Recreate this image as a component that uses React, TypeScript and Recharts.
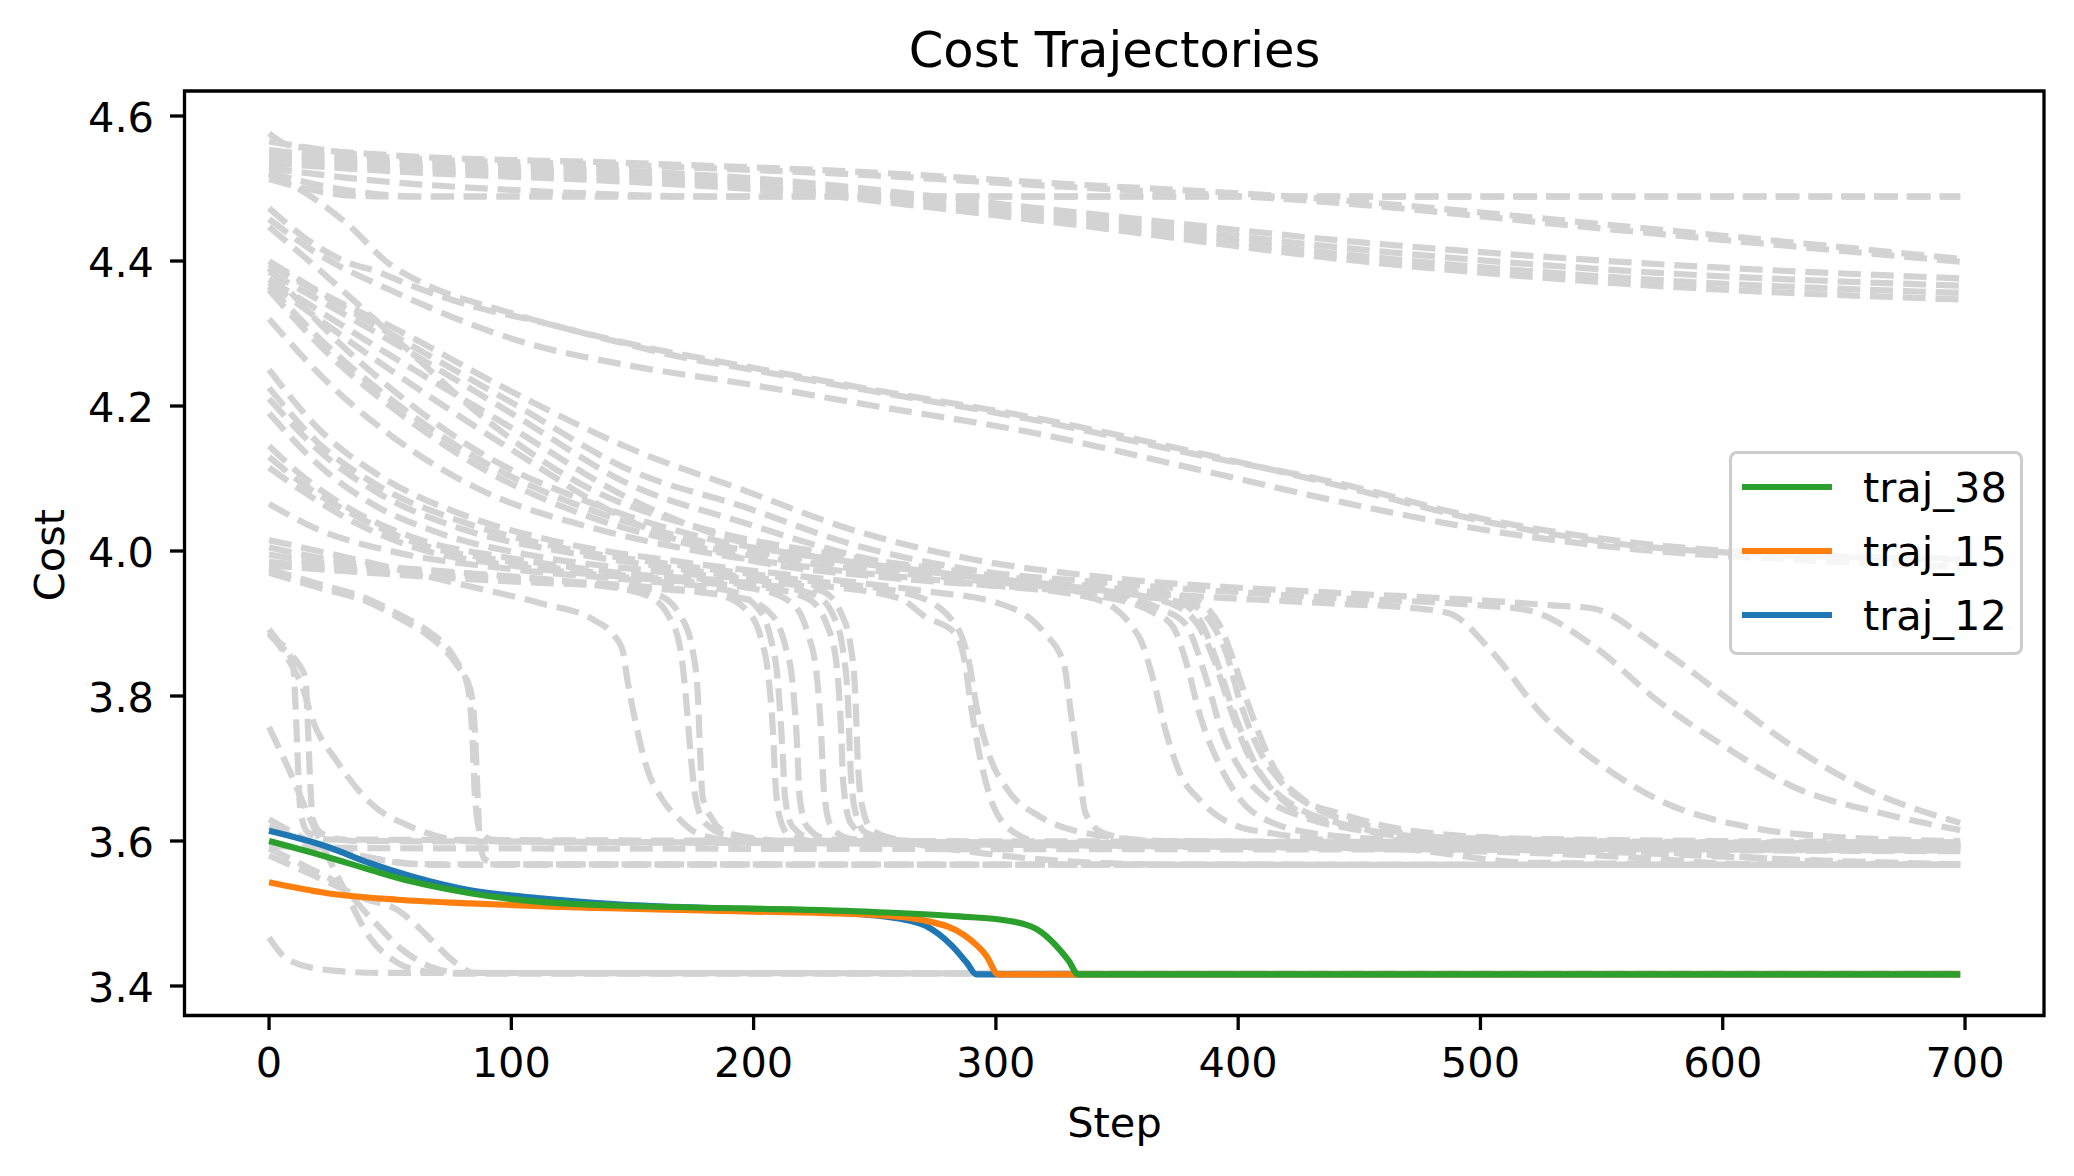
import React from 'react';
import { LineChart, Line, XAxis, YAxis, ReferenceArea } from 'recharts';

type Pt = [number, number];

// axis ticks
const STEP_TICKS = [0, 100, 200, 300, 400, 500, 600, 700];
const COST_TICKS = [3.4, 3.6, 3.8, 4.0, 4.2, 4.4, 4.6];

// highlighted trajectories [step, cost]
const traj38: Pt[] = [[0, 3.6], [24, 3.578], [42, 3.56], [59, 3.544], [83, 3.528], [112, 3.516], [142, 3.511], [196, 3.507], [250, 3.502], [285, 3.496], [305, 3.49], [317, 3.478], [325, 3.455], [330, 3.435], [334, 3.416], [698, 3.416]];
const traj15: Pt[] = [[0, 3.543], [24, 3.528], [53, 3.519], [83, 3.514], [112, 3.51], [196, 3.503], [250, 3.498], [271, 3.49], [287, 3.47], [296, 3.442], [301, 3.416], [698, 3.416]];
const traj12: Pt[] = [[0, 3.614], [24, 3.592], [42, 3.569], [59, 3.551], [83, 3.532], [112, 3.521], [142, 3.513], [196, 3.506], [244, 3.499], [260, 3.493], [271, 3.483], [282, 3.455], [288, 3.432], [292, 3.416], [698, 3.416]];

// top band
const top1: Pt[] = [[0, 4.576], [8, 4.56], [50, 4.546], [150, 4.535], [250, 4.522], [320, 4.508], [434, 4.486], [562, 4.447], [698, 4.403]];
const top2: Pt[] = [[0, 4.565], [50, 4.543], [150, 4.532], [250, 4.518], [320, 4.504], [434, 4.482], [562, 4.441], [698, 4.399]];
const top3: Pt[] = [[0, 4.553], [50, 4.537], [150, 4.524], [200, 4.514], [320, 4.472], [450, 4.426], [562, 4.398], [698, 4.376]];
const top4: Pt[] = [[0, 4.548], [50, 4.533], [150, 4.519], [200, 4.508], [320, 4.466], [450, 4.416], [562, 4.386], [698, 4.366]];
const top5: Pt[] = [[0, 4.541], [50, 4.529], [150, 4.514], [200, 4.503], [320, 4.461], [450, 4.407], [562, 4.376], [698, 4.356]];
const top6: Pt[] = [[0, 4.535], [50, 4.524], [150, 4.509], [200, 4.499], [320, 4.455], [450, 4.4], [562, 4.368], [698, 4.347]];
const flat1: Pt[] = [[0, 4.522], [20, 4.505], [45, 4.492], [60, 4.489], [698, 4.489]];
const flat2: Pt[] = [[0, 4.513], [15, 4.5], [35, 4.49], [50, 4.489], [698, 4.489]];
const flat3: Pt[] = [[0, 4.528], [40, 4.512], [100, 4.498], [150, 4.491], [180, 4.489], [698, 4.489]];

// slow band ending near 4.0
const band1: Pt[] = [[0, 4.473], [16, 4.429], [31, 4.4], [45, 4.385], [58, 4.367], [87, 4.335], [112, 4.316], [142, 4.29], [171, 4.267], [196, 4.252], [250, 4.22], [317, 4.18], [380, 4.135], [442, 4.093], [500, 4.045], [562, 4.012], [630, 3.995], [698, 3.99]];
const band2: Pt[] = [[0, 4.52], [12, 4.5], [32, 4.452], [50, 4.395], [62, 4.372], [100, 4.328], [150, 4.285], [196, 4.255], [250, 4.222], [317, 4.183], [380, 4.138], [442, 4.09], [500, 4.042], [562, 4.008], [630, 3.994], [698, 3.988]];
const band3: Pt[] = [[0, 4.458], [20, 4.41], [50, 4.36], [105, 4.288], [150, 4.255], [196, 4.231], [250, 4.2], [317, 4.162], [380, 4.115], [442, 4.068], [500, 4.03], [562, 4.003], [630, 3.988], [698, 3.978]];

// late, gentle drops
const fanA: Pt[] = [[0, 4.4], [25, 4.35], [50, 4.31], [100, 4.22], [150, 4.14], [195, 4.085], [240, 4.03], [288, 3.99], [350, 3.962], [442, 3.942], [500, 3.932], [530, 3.925], [546, 3.921], [573, 3.868], [601, 3.799], [629, 3.73], [657, 3.675], [698, 3.625]];
const fanB: Pt[] = [[0, 4.395], [50, 4.3], [100, 4.205], [150, 4.11], [195, 4.062], [240, 4.01], [288, 3.975], [350, 3.955], [442, 3.935], [500, 3.925], [520, 3.918], [547, 3.868], [573, 3.794], [601, 3.73], [629, 3.675], [666, 3.638], [698, 3.615]];
const fanC: Pt[] = [[0, 4.385], [50, 4.29], [100, 4.19], [150, 4.09], [195, 4.04], [240, 3.995], [288, 3.965], [350, 3.945], [442, 3.927], [470, 3.922], [487, 3.914], [505, 3.86], [525, 3.776], [555, 3.693], [574, 3.656], [611, 3.619], [650, 3.605], [698, 3.6]];
const fanD: Pt[] = [[0, 4.375], [50, 4.27], [100, 4.17], [150, 4.07], [195, 4.012], [240, 3.985], [300, 3.962], [350, 3.948], [380, 3.935], [392, 3.9], [398, 3.85], [404, 3.79], [415, 3.7], [427, 3.657], [442, 3.638], [470, 3.615], [520, 3.603], [698, 3.598]];
const fanE: Pt[] = [[0, 4.37], [50, 4.25], [100, 4.14], [150, 4.04], [195, 3.99], [250, 3.965], [300, 3.952], [350, 3.94], [375, 3.93], [385, 3.9], [392, 3.84], [398, 3.78], [408, 3.7], [420, 3.652], [440, 3.625], [480, 3.605], [698, 3.595]];

// plateau then sharp drop
const drop85a: Pt[] = [[0, 3.975], [20, 3.955], [42, 3.932], [55, 3.91], [65, 3.891], [77, 3.85], [82, 3.813], [84, 3.74], [85, 3.66], [87, 3.615], [92, 3.602], [120, 3.598], [698, 3.596]];
const drop85b: Pt[] = [[0, 3.97], [20, 3.95], [42, 3.928], [55, 3.905], [65, 3.885], [77, 3.845], [83, 3.81], [85, 3.75], [86, 3.67], [87, 3.6], [89, 3.575], [95, 3.568], [698, 3.567]];
const drop146: Pt[] = [[0, 4.015], [40, 3.985], [83, 3.951], [112, 3.928], [134, 3.905], [142, 3.885], [146, 3.862], [148, 3.82], [151, 3.768], [156, 3.7], [162, 3.659], [170, 3.628], [176, 3.612], [190, 3.601], [230, 3.597], [698, 3.595]];
const drop172: Pt[] = [[0, 4.005], [30, 3.985], [80, 3.97], [130, 3.955], [155, 3.94], [165, 3.91], [170, 3.86], [172, 3.8], [174, 3.72], [176, 3.66], [180, 3.625], [190, 3.607], [210, 3.6], [698, 3.594]];
const drop178: Pt[] = [[0, 3.995], [30, 3.98], [80, 3.968], [130, 3.955], [160, 3.94], [170, 3.91], [175, 3.86], [177, 3.8], [178, 3.716], [179, 3.66], [183, 3.63], [190, 3.61], [215, 3.6], [698, 3.59]];
const drop207: Pt[] = [[0, 3.985], [50, 3.97], [100, 3.962], [150, 3.952], [185, 3.94], [198, 3.915], [203, 3.88], [206, 3.83], [208, 3.75], [209, 3.68], [211, 3.63], [215, 3.607], [230, 3.598], [400, 3.592], [550, 3.585], [650, 3.572], [698, 3.568]];
const drop211: Pt[] = [[0, 4.065], [20, 4.03], [50, 4.0], [100, 3.975], [150, 3.96], [190, 3.945], [202, 3.92], [207, 3.88], [210, 3.82], [212, 3.72], [213, 3.66], [216, 3.62], [225, 3.602], [250, 3.597], [698, 3.59]];
const drop217: Pt[] = [[0, 3.98], [50, 3.968], [100, 3.958], [150, 3.95], [195, 3.935], [208, 3.91], [213, 3.87], [216, 3.82], [218, 3.73], [219, 3.66], [222, 3.62], [230, 3.603], [260, 3.597], [698, 3.587]];
const drop227: Pt[] = [[0, 4.115], [15, 4.08], [35, 4.04], [60, 4.005], [100, 3.98], [150, 3.963], [200, 3.948], [215, 3.93], [222, 3.89], [226, 3.83], [228, 3.74], [229, 3.67], [232, 3.62], [240, 3.603], [270, 3.597], [698, 3.588]];
const drop235: Pt[] = [[0, 4.13], [15, 4.09], [35, 4.05], [60, 4.012], [100, 3.985], [150, 3.965], [200, 3.952], [222, 3.935], [230, 3.9], [234, 3.85], [236, 3.76], [237, 3.68], [240, 3.625], [248, 3.605], [280, 3.598], [698, 3.592]];
const drop239: Pt[] = [[0, 4.145], [15, 4.1], [35, 4.055], [60, 4.018], [100, 3.99], [150, 3.968], [200, 3.955], [225, 3.94], [233, 3.91], [237, 3.86], [239, 3.79], [240, 3.7], [242, 3.64], [246, 3.612], [260, 3.6], [300, 3.595], [698, 3.586]];
const drop242: Pt[] = [[0, 4.19], [20, 4.12], [40, 4.07], [70, 4.025], [110, 3.993], [160, 3.972], [200, 3.96], [228, 3.945], [236, 3.915], [240, 3.87], [242, 3.8], [243, 3.71], [245, 3.645], [249, 3.615], [262, 3.6], [290, 3.585], [330, 3.572], [380, 3.567], [698, 3.567]];
const drop287: Pt[] = [[0, 4.21], [20, 4.14], [45, 4.08], [80, 4.03], [120, 4.0], [170, 3.975], [220, 3.955], [260, 3.935], [271, 3.909], [283, 3.887], [287, 3.85], [290, 3.78], [294, 3.707], [299, 3.648], [308, 3.611], [321, 3.597], [450, 3.59], [560, 3.578], [610, 3.568], [698, 3.567]];
const drop291: Pt[] = [[0, 4.225], [20, 4.15], [45, 4.09], [80, 4.04], [120, 4.005], [170, 3.98], [220, 3.96], [265, 3.94], [283, 3.9], [289, 3.845], [292, 3.786], [297, 3.721], [305, 3.67], [318, 3.634], [337, 3.611], [370, 3.6], [698, 3.594]];
const drop333: Pt[] = [[0, 4.25], [20, 4.17], [45, 4.105], [80, 4.05], [120, 4.012], [170, 3.985], [220, 3.965], [270, 3.945], [301, 3.928], [320, 3.887], [328, 3.845], [331, 3.776], [334, 3.707], [337, 3.638], [345, 3.61], [365, 3.6], [698, 3.594]];
const drop365: Pt[] = [[0, 4.32], [25, 4.23], [50, 4.16], [90, 4.08], [130, 4.035], [180, 3.998], [230, 3.975], [290, 3.955], [340, 3.935], [359, 3.882], [365, 3.822], [370, 3.753], [376, 3.693], [384, 3.657], [397, 3.624], [415, 3.61], [440, 3.6], [480, 3.585], [520, 3.57], [698, 3.567]];
const drop372: Pt[] = [[0, 4.36], [25, 4.27], [50, 4.2], [90, 4.11], [130, 4.05], [180, 4.005], [230, 3.98], [290, 3.96], [340, 3.94], [365, 3.915], [373, 3.896], [379, 3.841], [384, 3.776], [392, 3.707], [400, 3.661], [415, 3.624], [440, 3.607], [480, 3.6], [698, 3.596]];
const drop380: Pt[] = [[0, 4.365], [25, 4.28], [50, 4.21], [90, 4.12], [130, 4.06], [180, 4.012], [230, 3.985], [290, 3.962], [340, 3.943], [368, 3.92], [378, 3.9], [387, 3.822], [393, 3.753], [401, 3.698], [412, 3.657], [426, 3.634], [450, 3.615], [500, 3.6], [698, 3.593]];
const drop386: Pt[] = [[0, 4.39], [25, 4.3], [50, 4.225], [90, 4.13], [130, 4.07], [180, 4.018], [230, 3.99], [290, 3.965], [340, 3.947], [370, 3.93], [383, 3.9], [390, 3.85], [397, 3.78], [404, 3.72], [412, 3.68], [425, 3.645], [445, 3.622], [480, 3.605], [698, 3.592]];
const drop392: Pt[] = [[0, 4.447], [20, 4.39], [50, 4.3], [90, 4.18], [130, 4.09], [180, 4.03], [230, 3.997], [290, 3.97], [340, 3.95], [375, 3.935], [388, 3.905], [395, 3.86], [401, 3.79], [408, 3.73], [418, 3.68], [432, 3.645], [455, 3.62], [500, 3.6], [600, 3.58], [650, 3.57], [698, 3.567]];

// low starts
const early1: Pt[] = [[0, 3.892], [4, 3.875], [8, 3.86], [10, 3.84], [11, 3.78], [12, 3.7], [13, 3.64], [16, 3.612], [25, 3.602], [698, 3.598]];
const early2: Pt[] = [[0, 3.885], [6, 3.865], [12, 3.845], [15, 3.825], [16, 3.76], [17, 3.68], [18, 3.63], [22, 3.61], [35, 3.6], [698, 3.595]];
const early3: Pt[] = [[0, 3.888], [8, 3.85], [14, 3.81], [18, 3.767], [28, 3.71], [42, 3.652], [59, 3.619], [83, 3.6], [698, 3.592]];
const low1: Pt[] = [[0, 3.757], [8, 3.7], [17, 3.63], [30, 3.54], [42, 3.465], [53, 3.432], [65, 3.42], [80, 3.417], [698, 3.417]];
const low2: Pt[] = [[0, 3.59], [15, 3.565], [30, 3.537], [43, 3.49], [55, 3.45], [68, 3.425], [80, 3.418], [698, 3.417]];
const low3: Pt[] = [[0, 3.58], [20, 3.55], [40, 3.52], [53, 3.505], [62, 3.48], [68, 3.46], [77, 3.432], [85, 3.418], [698, 3.417]];
const low4: Pt[] = [[0, 3.467], [8, 3.436], [24, 3.422], [47, 3.418], [698, 3.417]];
const mid1: Pt[] = [[0, 3.63], [17, 3.6], [45, 3.575], [60, 3.568], [698, 3.567]];
const mid2: Pt[] = [[0, 3.62], [20, 3.595], [50, 3.572], [70, 3.567], [698, 3.567]];
const mid3: Pt[] = [[0, 3.593], [50, 3.59], [698, 3.588]];

const GRAY: Pt[][] = [
  top1, top2, top3, top4, top5, top6, flat1, flat2, flat3,
  band1, band2, band3, fanA, fanB, fanC, fanD, fanE,
  drop85a, drop85b, drop146, drop172, drop178, drop207, drop211, drop217, drop227,
  drop235, drop239, drop242, drop287, drop291, drop333, drop365, drop372, drop380, drop386, drop392,
  early1, early2, early3, low1, low2, low3, low4, mid1, mid2, mid3,
];

// legend order (green first); drawn in reverse so green ends up on top
const HIGHLIGHT = [
  { name: 'traj_38', color: '#2ca02c', pts: traj38 },
  { name: 'traj_15', color: '#ff7f0e', pts: traj15 },
  { name: 'traj_12', color: '#1f77b4', pts: traj12 },
];
const DRAW_ORDER = [...HIGHLIGHT].reverse();

const toRows = (pts: Pt[]) => pts.map(([s, c]) => ({ s, c }));

const FONT = '"DejaVu Sans", sans-serif';
const W = 2074;
const H = 1176;
const X_DOMAIN: [number, number] = [-34.9, 732.6];
const Y_DOMAIN: [number, number] = [3.3593, 4.6345];

const XTick = (props: any) => (
  <text x={props.x} y={1077} textAnchor="middle" fontFamily={FONT} fontSize={41.5} fill="#000">
    {props.payload.value}
  </text>
);

const YTick = (props: any) => (
  <text x={154} y={props.y + 16} textAnchor="end" fontFamily={FONT} fontSize={41.5} fill="#000">
    {Number(props.payload.value).toFixed(1)}
  </text>
);

export default function App() {
  return (
    <div style={{ position: 'relative', width: W, height: H, background: '#fff' }}>
      <style>{'body{margin:0;}'}</style>
      <LineChart width={W} height={H} margin={{ top: 91, right: 30, left: 0, bottom: 0 }}>
        <XAxis
          dataKey="s"
          type="number"
          domain={X_DOMAIN}
          allowDataOverflow
          ticks={STEP_TICKS}
          height={160.5}
          axisLine={false}
          tickSize={14.5}
          tickLine={{ stroke: '#000', strokeWidth: 3.3 }}
          tick={XTick}
        />
        <YAxis
          type="number"
          domain={Y_DOMAIN}
          allowDataOverflow
          ticks={COST_TICKS}
          width={184.5}
          axisLine={false}
          tickSize={14.5}
          tickLine={{ stroke: '#000', strokeWidth: 3.3 }}
          tick={YTick}
        />
        {GRAY.map((pts, i) => (
          <Line
            key={`g${i}`}
            data={toRows(pts)}
            dataKey="c"
            type="monotone"
            stroke="#d3d3d3"
            strokeWidth={6.2}
            strokeDasharray="22.9 9.9"
            dot={false}
            activeDot={false}
            isAnimationActive={false}
          />
        ))}
        {DRAW_ORDER.map((h) => (
          <Line
            key={h.name}
            name={h.name}
            data={toRows(h.pts)}
            dataKey="c"
            type="monotone"
            stroke={h.color}
            strokeWidth={6.2}
            dot={false}
            activeDot={false}
            isAnimationActive={false}
          />
        ))}
        <ReferenceArea
          x1={X_DOMAIN[0]}
          x2={X_DOMAIN[1]}
          y1={Y_DOMAIN[0]}
          y2={Y_DOMAIN[1]}
          fill="none"
          fillOpacity={0}
          stroke="#000"
          strokeWidth={3.3}
          ifOverflow="visible"
        />
      </LineChart>

      {/* titles */}
      <svg width={W} height={H} style={{ position: 'absolute', left: 0, top: 0, pointerEvents: 'none' }}>
        <text x={1114.5} y={67} textAnchor="middle" fontFamily={FONT} fontSize={49.6} fill="#000">
          Cost Trajectories
        </text>
        <text x={1114.5} y={1137} textAnchor="middle" fontFamily={FONT} fontSize={41.5} fill="#000">
          Step
        </text>
        <text
          x={0}
          y={0}
          transform="translate(63.5 555) rotate(-90)"
          textAnchor="middle"
          fontFamily={FONT}
          fontSize={41.5}
          fill="#000"
        >
          Cost
        </text>
      </svg>

      {/* legend */}
      <div
        style={{
          position: 'absolute',
          left: 1729,
          top: 451,
          width: 294,
          height: 204,
          boxSizing: 'border-box',
          border: '3.3px solid #cccccc',
          borderRadius: 8,
          background: 'rgba(255,255,255,0.8)',
        }}
      />
      <svg width={W} height={H} style={{ position: 'absolute', left: 0, top: 0, pointerEvents: 'none' }}>
        {HIGHLIGHT.map((h, i) => {
          const y = 487 + i * 64;
          return (
            <g key={h.name}>
              <line x1={1742} x2={1832} y1={y} y2={y} stroke={h.color} strokeWidth={6.2} />
              <text x={1863} y={y + 15} fontFamily={FONT} fontSize={41.5} fill="#000">
                {h.name}
              </text>
            </g>
          );
        })}
      </svg>
    </div>
  );
}
